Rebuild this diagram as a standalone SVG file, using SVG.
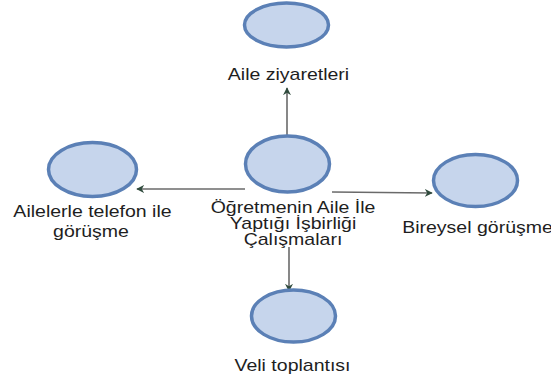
<svg xmlns="http://www.w3.org/2000/svg" width="551" height="376" viewBox="0 0 551 376">
<style>
.node ellipse{fill:#c6d5ec;stroke:#5b80b6;stroke-width:3.5}
.lbl{font-family:"Liberation Sans",Arial,sans-serif;font-size:16px;fill:#1e1e1e;text-anchor:middle}
.conn line{stroke:#6a6a6a;stroke-width:1.6;fill:none}
</style>
<defs>
<marker id="ah" viewBox="0 0 10 10" refX="9" refY="5" markerWidth="8" markerHeight="8" markerUnits="userSpaceOnUse" orient="auto">
<path d="M0,0 L10,5 L0,10 L3,5 Z" fill="#2f4a3c"/>
</marker>
</defs>
<rect width="551" height="376" fill="#ffffff"/>
<g id="connectors" class="conn">
<line x1="287" y1="135" x2="287" y2="88" marker-end="url(#ah)"/>
<line x1="245" y1="189" x2="137" y2="189" marker-end="url(#ah)"/>
<line x1="332" y1="192" x2="432" y2="193" marker-end="url(#ah)"/>
<line x1="289" y1="247" x2="289" y2="291" marker-end="url(#ah)"/>
</g>
<g id="center" class="node">
<ellipse cx="287.5" cy="164" rx="42" ry="28"/>
<text class="lbl" transform="translate(293,213) scale(1.22,1)">Öğretmenin Aile İle</text>
<text class="lbl" transform="translate(293,229) scale(1.22,1)">Yaptığı İşbirliği</text>
<text class="lbl" transform="translate(293,245) scale(1.22,1)">Çalışmaları</text>
</g>
<g id="aile-ziyaretleri" class="node">
<ellipse cx="286.5" cy="25" rx="42" ry="22"/>
<text class="lbl" transform="translate(288.5,80) scale(1.22,1)">Aile ziyaretleri</text>
</g>
<g id="telefon" class="node">
<ellipse cx="92.5" cy="169.5" rx="44" ry="27"/>
<text class="lbl" transform="translate(92.5,217) scale(1.22,1)">Ailelerle telefon ile</text>
<text class="lbl" transform="translate(91,237) scale(1.22,1)">görüşme</text>
</g>
<g id="bireysel" class="node">
<ellipse cx="475.5" cy="180.5" rx="42" ry="26"/>
<text class="lbl" transform="translate(477.5,233) scale(1.22,1)">Bireysel görüşme</text>
</g>
<g id="veli" class="node">
<ellipse cx="293.5" cy="316" rx="42" ry="26"/>
<text class="lbl" transform="translate(292.5,371) scale(1.22,1)">Veli toplantısı</text>
</g>
</svg>
